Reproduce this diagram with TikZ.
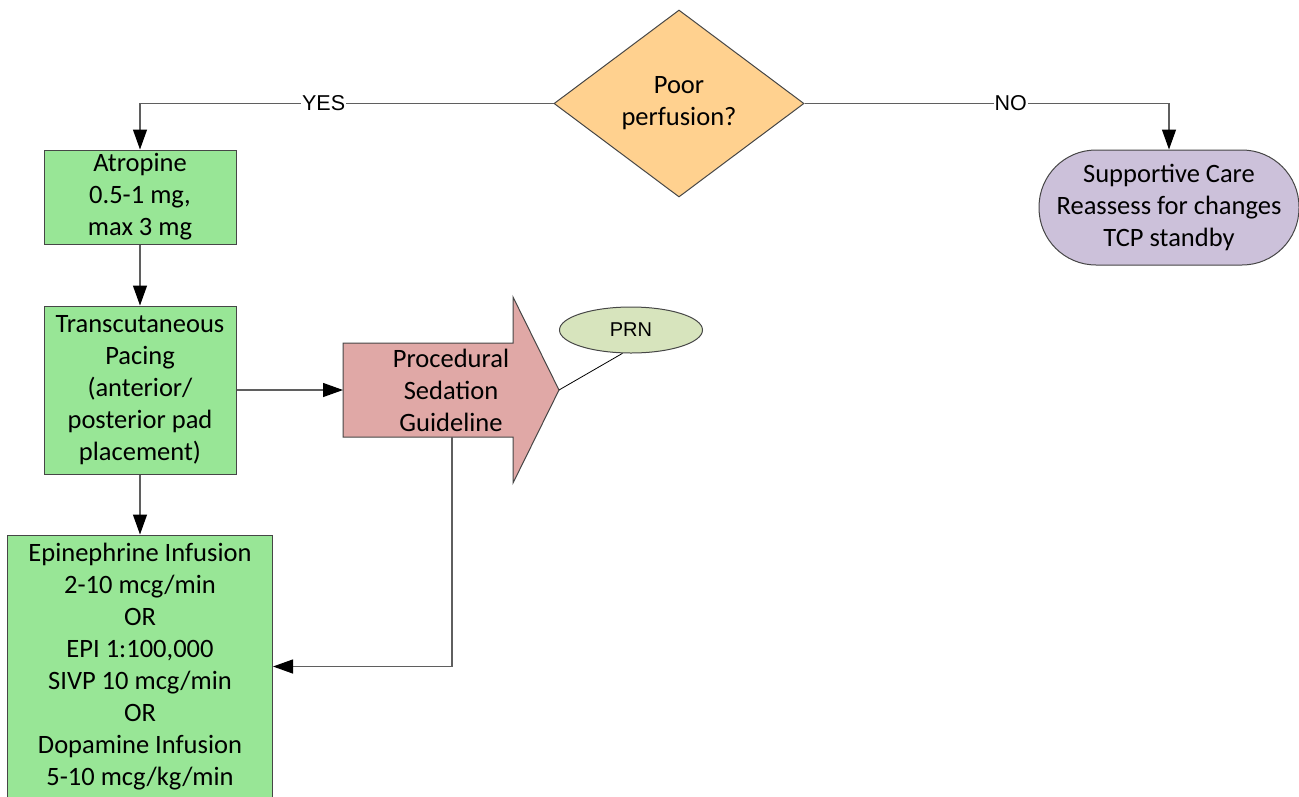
\documentclass[tikz,border=0pt]{standalone}
\usepackage{fontspec}
\setmainfont{Carlito}
\newfontfamily\labelfont{Liberation Sans}
\usetikzlibrary{arrows.meta,shapes.geometric}
\definecolor{boxgreen}{RGB}{152,230,150}
\definecolor{decisionorange}{RGB}{255,209,143}
\definecolor{carelilac}{RGB}{204,193,218}
\definecolor{sedationpink}{RGB}{224,168,166}
\definecolor{prngreen}{RGB}{215,228,189}
\definecolor{edgegray}{RGB}{70,70,70}
\definecolor{linkgray}{RGB}{95,95,95}
\begin{document}
\begin{tikzpicture}[x=1pt,y=-1pt,
  bodytext/.style={font=\fontsize{26.5}{32}\selectfont, align=center},
  stepbox/.style={bodytext, draw=edgegray, line width=1pt, fill=boxgreen, inner sep=0pt},
  conn/.style={draw=linkgray, line width=1.3pt, -{Triangle[length=20pt,width=14pt,fill=black,color=black]}},
  answer/.style={font=\labelfont\fontsize{21.5}{24}\selectfont, fill=white, inner sep=1pt}]
\useasboundingbox (0,0) rectangle (1299,796);

% decision
\node[bodytext, diamond, aspect=1.337, draw=edgegray, line width=1pt, fill=decisionorange,
      minimum width=250pt, minimum height=187pt, inner sep=0pt] (dec) at (679,103.5) {Poor\\perfusion?};

% outcome for NO
\node[bodytext, draw=edgegray, line width=1pt, fill=carelilac, rounded corners=57pt,
      minimum width=260pt, minimum height=115pt, inner sep=0pt] (care) at (1169,207.5)
      {Supportive Care\\Reassess for changes\\TCP standby};

% treatment column
\node[stepbox, minimum width=192pt, minimum height=94pt] (atro) at (140,197) {Atropine\\0.5-1 mg,\\max 3 mg};
\node[stepbox, minimum width=192pt, minimum height=168pt] (tcp) at (140,390)
      {Transcutaneous\\Pacing\\(anterior/\\posterior pad\\placement)};
\node[stepbox, minimum width=265pt, minimum height=263pt] (epi) at (140,666.5)
      {Epinephrine Infusion\\2-10 mcg/min\\OR\\EPI 1:100,000\\SIVP 10 mcg/min\\OR\\Dopamine Infusion\\5-10 mcg/kg/min};

% sedation block arrow
\draw[draw=edgegray, line width=1pt, fill=sedationpink]
  (343,343) -- (513,343) -- (513,297) -- (559,390) -- (513,483) -- (513,437) -- (343,437) -- cycle;
\coordinate (procL) at (343,390);
\coordinate (procB) at (452,437);
\coordinate (proctip) at (559,390);
\node[bodytext, inner sep=0pt] (proc) at (451,390) {Procedural\\Sedation\\Guideline};

% PRN callout
\node[ellipse, draw=edgegray, line width=1pt, fill=prngreen, minimum width=143pt, minimum height=46pt,
      inner sep=0pt, font=\labelfont\fontsize{20}{22}\selectfont] (prn) at (631,330) {PRN};
\draw[black, line width=0.8pt] (proctip) -- (prn.250);

% connectors
\draw[conn] (dec.west) -| node[answer, pos=0.278] {YES} (atro.north);
\draw[conn] (dec.east) -| node[answer, pos=0.283] {NO} (care.north);
\draw[conn] (atro.south) -- (tcp.north);
\draw[conn] (tcp.south) -- (epi.north);
\draw[conn] (tcp.east) -- (procL);
\draw[conn] (procB) |- (epi.east);
\end{tikzpicture}
\end{document}
